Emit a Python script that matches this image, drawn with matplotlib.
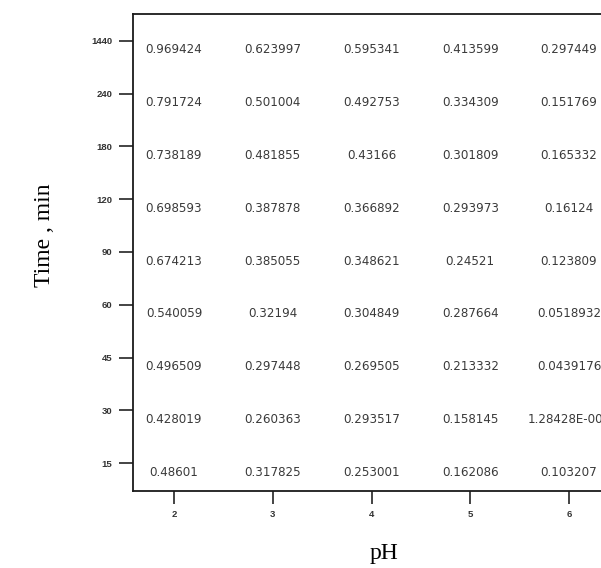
import numpy as np
import matplotlib.pyplot as plt

# sampling times (rows, bottom to top) and pH values (columns)
times = ["15", "30", "45", "60", "90", "120", "180", "240", "1440"]
ph = [2, 3, 4, 5, 6]

# measured values per pH, ordered like `times`
ph2 = [0.48601, 0.428019, 0.496509, 0.540059, 0.674213, 0.698593, 0.738189, 0.791724, 0.969424]
ph3 = [0.317825, 0.260363, 0.297448, 0.32194, 0.385055, 0.387878, 0.481855, 0.501004, 0.623997]
ph4 = [0.253001, 0.293517, 0.269505, 0.304849, 0.348621, 0.366892, 0.43166, 0.492753, 0.595341]
ph5 = [0.162086, 0.158145, 0.213332, 0.287664, 0.24521, 0.293973, 0.301809, 0.334309, 0.413599]
ph6 = [0.103207, 1.28428e-05, 0.0439176, 0.0518932, 0.123809, 0.16124, 0.165332, 0.151769, 0.297449]
columns = [ph2, ph3, ph4, ph5, ph6]


def fmt(v):
    s = "%.6g" % v
    if "e" in s:
        mant, exp = s.split("e")
        s = "%sE%s%03d" % (mant, exp[0], abs(int(exp)))
    return s


fig = plt.figure(figsize=(6.01, 5.68), dpi=100)
W, H = 601.0, 568.0
# axes box in pixels: left 133, right past the edge (620), top 14, bottom 491
ax = fig.add_axes([133 / W, (H - 491) / H, (620 - 133) / W, (491 - 14) / H])

ax.set_xlim(1.585, 6.516)
ax.set_ylim(-0.53, 8.51)

for x, col in zip(ph, columns):
    for j, v in enumerate(col):
        ax.annotate(fmt(v), (x, j), xytext=(0, -6.5), textcoords="offset points",
                    ha="center", va="center", fontsize=8.6, color="#3a3a3a",
                    family="DejaVu Sans")

ax.set_xticks(ph)
ax.set_xticklabels([str(p) for p in ph])
ax.set_yticks(np.arange(len(times)))
ax.set_yticklabels(times)

for lab in ax.get_xticklabels() + ax.get_yticklabels():
    lab.set_fontsize(6.8)
    lab.set_fontweight("bold")
    lab.set_family("Liberation Sans")
    lab.set_color("#333333")

ax.tick_params(axis="both", direction="out", length=9, width=1.1, pad=5, color="#111111")
ax.tick_params(axis="y", length=10)

for side in ["left", "bottom", "top"]:
    ax.spines[side].set_linewidth(1.3)
    ax.spines[side].set_color("#1a1a1a")
ax.spines["right"].set_visible(False)

ax.set_xlabel("pH", fontsize=17, family="Liberation Serif", va="center")
ax.xaxis.set_label_coords((384 - 133) / 487, (491 - 553) / 477)
ax.set_ylabel("Time , min", fontsize=17, family="Liberation Serif", va="center")
ax.yaxis.set_label_coords((45 - 133) / 487, (491 - 235) / 477)

fig.savefig("out.png", dpi=100)
